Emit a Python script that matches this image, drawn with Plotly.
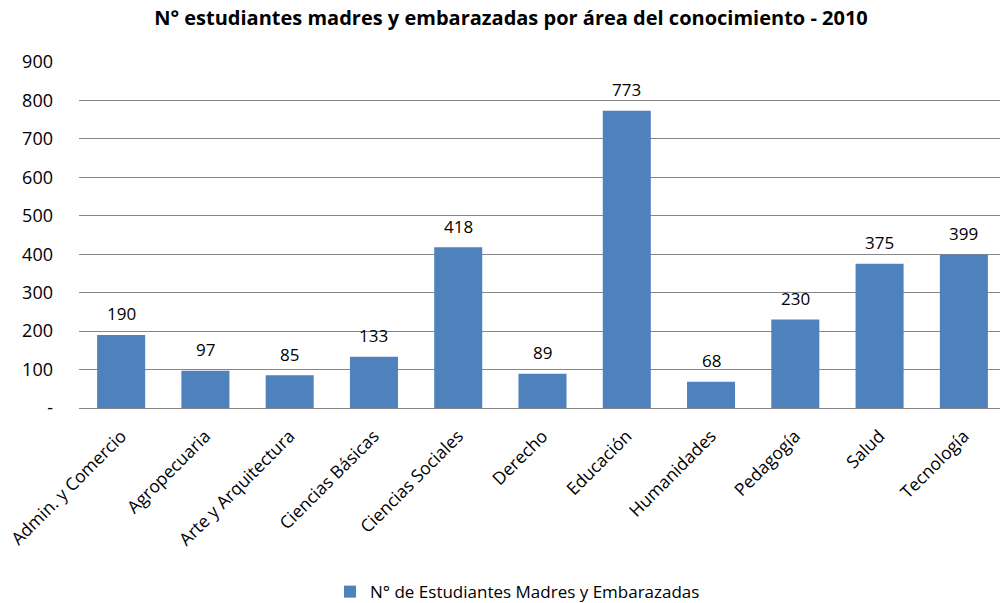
import plotly.graph_objects as go

categories = ["Admin. y Comercio", "Agropecuaria", "Arte y Arquitectura", "Ciencias Básicas",
              "Ciencias Sociales", "Derecho", "Educación", "Humanidades", "Pedagogía",
              "Salud", "Tecnología"]
values = [190, 97, 85, 133, 418, 89, 773, 68, 230, 375, 399]
tick_vals = [0, 100, 200, 300, 400, 500, 600, 700, 800, 900]
tick_text = ["-", "100", "200", "300", "400", "500", "600", "700", "800", "900"]
series_name = "N° de Estudiantes Madres y Embarazadas"
title_text = "N° estudiantes madres y embarazadas por área del conocimiento - 2010"

FONT = "'Open Sans', sans-serif"

fig = go.Figure()
fig.add_trace(go.Bar(
    x=categories, y=values, name=series_name,
    marker=dict(color="#4F81BD", line=dict(width=0)),
))

for c, v in zip(categories, values):
    fig.add_annotation(x=c, y=v, text=str(v), showarrow=False, yanchor="middle", yshift=21,
                       font=dict(size=17, color="#000000", family=FONT))

fig.update_layout(
    width=1000, height=595,
    margin=dict(l=71, r=2, t=54, b=195, autoexpand=False),
    paper_bgcolor="white", plot_bgcolor="white",
    font=dict(family=FONT, color="#000000"),
    title=dict(text="<b>" + title_text + "</b>", x=0.503, xanchor="center", y=0.983, yanchor="middle",
               font=dict(size=20, family=FONT, color="#000000")),
    bargap=0.43,
    showlegend=True,
    legend=dict(orientation="h", x=0.473, xanchor="center", y=-0.532, yanchor="middle",
                font=dict(size=17, family=FONT), itemwidth=30),
    xaxis=dict(tickangle=-45, tickfont=dict(size=17.5, family=FONT), showline=True,
               linecolor="#868686", linewidth=1, ticks="", showgrid=False, automargin=False,
               ticklabelstandoff=10),
    yaxis=dict(range=[0, 900], tickvals=tick_vals, ticktext=tick_text, showgrid=True,
               gridcolor="#868686", gridwidth=1, zeroline=False, ticks="", automargin=False,
               tickfont=dict(size=18, family=FONT), ticklabelstandoff=25),
)

fig.write_html("out.html")
